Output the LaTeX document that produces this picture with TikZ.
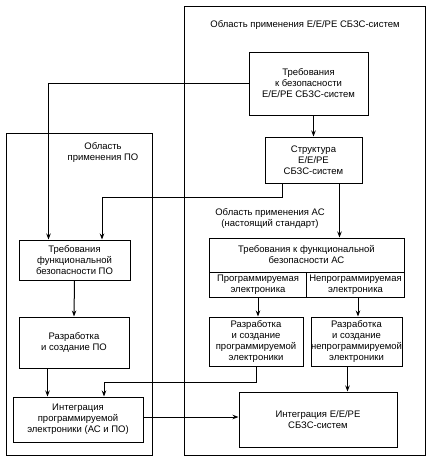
\documentclass[tikz,border=0pt]{standalone}
\usepackage{fontspec}
\setmainfont{Liberation Sans}
\usetikzlibrary{arrows.meta}
\begin{document}
\begin{tikzpicture}[x=1pt,y=-1pt,
  txt/.style={align=center,font=\fontsize{9.5}{11}\selectfont,inner sep=0pt},
  box/.style={txt,draw,line width=1pt},
  frame/.style={draw,line width=0.9pt,inner sep=0pt},
  ln/.style={line width=1pt},
  arr/.style={ln,-{Stealth[length=6pt,width=4.5pt]}}]
\useasboundingbox (0,0) rectangle (432,461);
% frames
\node[frame,minimum width=241pt,minimum height=449pt] (frameR) at (304.5,230.5) {};
\node[frame,minimum width=146pt,minimum height=322pt] (frameL) at (79,294) {};
% labels
\node[txt] (tR) at (305,25) {Область применения E/E/PE СБЗС-систем};
\node[txt] (tL) at (103,152) {Область\\применения ПО};
\node[txt] (tAC) at (270,218) {Область применения АС\\(настоящий стандарт)};
% boxes
\node[box,fill=white,minimum width=119pt,minimum height=63pt] (req) at (308.5,83.5) {Требования\\к безопасности\\E/E/PE СБЗС-систем};
\node[box,minimum width=97pt,minimum height=46pt] (struct) at (313.5,160) {Структура\\E/E/PE\\СБЗС-систем};
\node[box,minimum width=111pt,minimum height=40pt] (reqPO) at (74.5,260) {Требования\\функциональной\\безопасности ПО};
\node[box,minimum width=195pt,minimum height=34pt] (acreq) at (306.5,255) {Требования к функциональной\\безопасности АС};
\node[box,minimum width=97pt,minimum height=25pt,anchor=north west] (acprog) at (209,272) {Программируемая\\электроника};
\node[box,minimum width=98pt,minimum height=25pt,anchor=north west] (acnon) at (306,272) {Непрограммируемая\\электроника};
\node[box,minimum width=110pt,minimum height=51pt] (devPO) at (74,342.5) {Разработка\\и создание ПО};
\node[box,minimum width=94pt,minimum height=49pt] (devprog) at (256,341.5) {Разработка\\и создание\\программируемой\\электроники};
\node[box,minimum width=91pt,minimum height=49pt] (devnon) at (356.5,341.5) {Разработка\\и создание\\непрограммируемой\\электроники};
\node[box,minimum width=130pt,minimum height=45pt] (integ) at (78,419.5) {Интеграция\\программируемой\\электроники (АС и ПО)};
\node[box,minimum width=158pt,minimum height=55pt] (sys) at (318,419.5) {Интеграция E/E/PE\\СБЗС-систем};
% connectors
\coordinate (j1) at (102,197);
\coordinate (j2) at (104,382);
\draw[arr] (req.west) -| ([xshift=30pt]reqPO.north west);
\draw[arr] (req.south -| struct.north) -- (struct.north);
\draw[arr] ([xshift=18pt]struct.south west) |- (j1) -- (j1 |- reqPO.north);
\draw[arr] ([xshift=75pt]struct.south west) -- ([xshift=75pt]struct.south west |- acreq.north);
\draw[arr] (reqPO.south) -- (devPO.north);
\draw[arr] ([xshift=29pt]devPO.south west) -- ([xshift=29pt]devPO.south west |- integ.north);
\draw[arr] (acprog.south) -- (acprog.south |- devprog.north);
\draw[arr] ([xshift=52pt]acnon.south west) -- ([xshift=52pt]acnon.south west |- devnon.north);
\draw[arr] (devprog.south) |- (j2) -- (j2 |- integ.north);
\draw[arr] ([xshift=-9pt]devnon.south) -- ([xshift=-9pt]devnon.south |- sys.north);
\draw[arr] ([yshift=2.5pt]integ.east) -- ([yshift=2.5pt]integ.east -| sys.west);
\end{tikzpicture}
\end{document}
